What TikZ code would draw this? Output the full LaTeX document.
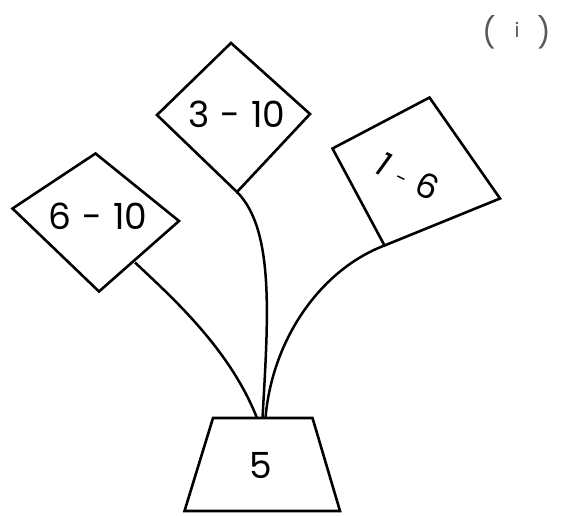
\documentclass[tikz,border=0pt]{standalone}
\usepackage{fontspec}
\setmainfont{Poppins}
\begin{document}
\begin{tikzpicture}[x=1pt,y=-1pt,
  shapeline/.style={line width=2.6pt,line join=miter},
  stem/.style={line width=2.5pt},
  lbl/.style={inner sep=0pt,font=\fontsize{36}{38}\selectfont}]
\useasboundingbox (0,0) rectangle (561,515);
% diamond 3-10
\coordinate (aT) at (231,43);
\coordinate (aL) at (157,115);
\coordinate (aR) at (310,114);
\coordinate (aB) at (237,192);
\draw[shapeline] (aT) -- (aR) -- (aB) -- (aL) -- cycle;
\node[lbl] (a) at (237,114) {3\hspace{0.3em}-\hspace{0.3em}10};
% diamond 6-10
\coordinate (bT) at (95.5,153.5);
\coordinate (bL) at (12.5,208.5);
\coordinate (bR) at (179,221);
\coordinate (bB) at (99,291.5);
\draw[shapeline] (bT) -- (bR) -- (bB) -- (bL) -- cycle;
\node[lbl] (b) at (98,216) {6\hspace{0.3em}-\hspace{0.3em}10};
\coordinate (bS) at (135,262.5);
% square 1-6
\coordinate (cL) at (332.5,148.5);
\coordinate (cT) at (429.5,97.5);
\coordinate (cR) at (500,198.5);
\coordinate (cB) at (384.5,245.5);
\draw[shapeline] (cL) -- (cT) -- (cR) -- (cB) -- cycle;
\node[lbl,font=\fontsize{34}{36}\selectfont,rotate=-26] (c) at (408,176) {\textit{1}\hspace{0.35em}{\fontsize{20}{20}\selectfont -}\hspace{0.3em}6};
% trapezoid 5
\coordinate (dTL) at (213,418);
\coordinate (dTR) at (312.5,418);
\coordinate (dBR) at (340,511);
\coordinate (dBL) at (184.5,511);
\draw[shapeline] (dTL) -- (dTR) -- (dBR) -- (dBL) -- cycle;
\node[lbl] (d) at (261,465) {5};
\coordinate (dL) at (257,418);
\coordinate (dM) at (262.5,418);
\coordinate (dR) at (265.5,418);
% stems
\draw[stem] (bS) .. controls (175,300) and (230,350) .. (dL);
\draw[stem] (aB) .. controls (275,230) and (268,320) .. (dM);
\draw[stem] (cB) .. controls (320,270) and (272,340) .. (dR);
% marker
\node[inner sep=0pt,text=black!65,font=\fontsize{30}{32}\selectfont] (m) at (517,32) {(\hspace{18pt}\raisebox{6pt}{\fontsize{20}{20}\selectfont i}\hspace{18pt})};
\end{tikzpicture}
\end{document}
